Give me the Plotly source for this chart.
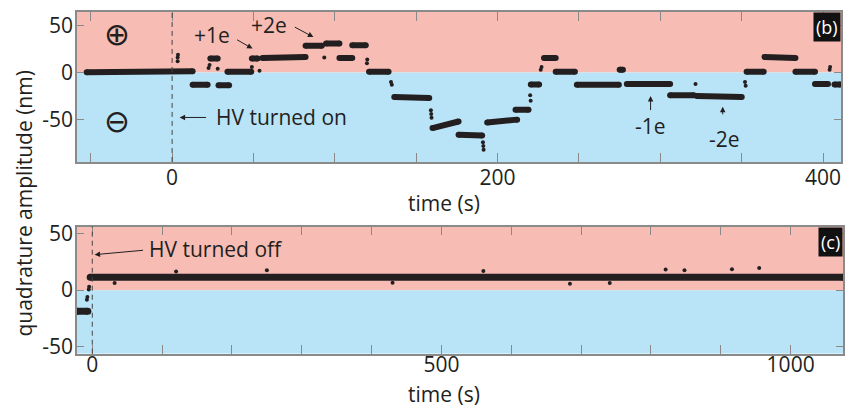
import plotly.graph_objects as go

# ---------------- Panel (b): HV turned on ----------------
# plateaus: start time, end time, level at start, level at end (nm)
b_seg_t0 = [-52.5, 12.6, 23.5, 28.5, 34.0, 49.0, 55.5, 82.0, 94.6, 102.8, 110.7, 121.0, 136.5, 160.0, 176.0, 193.6, 211.0, 220.4, 228.5, 235.7, 248.7, 275.0, 279.4, 306.0, 322.4, 353.0, 364.0, 383.0, 395.0, 407.0]
b_seg_t1 = [12.6, 21.8, 28.0, 35.0, 48.6, 52.5, 82.0, 92.0, 102.8, 110.7, 119.0, 133.0, 158.0, 176.0, 190.5, 212.0, 219.0, 225.5, 235.7, 247.5, 274.5, 277.0, 306.0, 320.5, 350.0, 363.5, 383.0, 395.0, 403.0, 410.5]
b_seg_y0 = [0.5, -13.0, 15.0, -13.5, 1.0, 15.0, 15.5, 28.5, 31.0, 15.5, 29.0, 1.0, -26.0, -59.0, -66.0, -53.0, -39.5, -12.7, 15.5, 1.0, -13.0, 3.0, -12.0, -24.0, -25.0, 1.0, 16.5, 1.0, -12.0, -12.7]
b_seg_y1 = [1.5, -13.0, 15.0, -13.5, 1.0, 15.0, 16.5, 28.5, 31.0, 15.5, 29.0, 1.0, -27.0, -52.0, -67.0, -50.0, -39.5, -12.7, 15.5, 1.0, -13.0, 3.0, -12.0, -24.0, -26.0, 1.0, 15.5, 1.0, -12.0, -12.7]
# isolated transition points
b_pts_t = [3.4, 3.4, 3.6, 22.4, 23.0, 28.0, 49.0, 53.7, 93.5, 119.7, 119.9, 134.5, 135.0, 159.0, 159.2, 159.4, 191.0, 191.2, 191.4, 220.0, 220.3, 226.5, 227.0, 248.5, 275.6, 321.6, 352.0, 352.4, 404.0, 404.3, 408.0]
b_pts_y = [12.0, 16.0, 19.0, 5.0, 8.0, 4.0, 6.0, 2.0, 16.0, 10.0, 14.0, -10.0, -13.0, -40.0, -44.0, -48.0, -74.0, -78.0, -82.0, -24.0, -30.0, 3.0, 6.0, -12.7, 4.0, -12.0, -10.0, -14.0, 3.0, 6.0, -12.7]

# ---------------- Panel (c): HV turned off ----------------
c_seg_t0 = [-22.0, -3.0]
c_seg_t1 = [-6.3, 1075.0]
c_seg_y0 = [-18.6, 11.4]
c_seg_y1 = [-18.6, 11.4]
c_pts_t = [-7.7, -7.0, -5.0, -4.5, 32.0, 684.0, 741.0, 821.0, 848.0, 916.0, 955.0, 250.0, 430.0, 120.0, 560.0]
c_pts_y = [-8.6, -6.0, 0.5, 3.0, 6.3, 5.7, 6.3, 18.3, 17.7, 18.5, 19.7, 17.5, 6.5, 16.5, 17.0]

# axis settings
b_xrange = [-58.5, 411.0]
b_yrange = [-95.0, 64.6]
c_xrange = [-22.0, 1075.0]
c_yrange = [-56.3, 56.3]
b_xticks = [-50, 0, 50, 100, 150, 200, 250, 300, 350, 400]
b_xticktext = ["", "0", "", "", "", "200", "", "", "", "400"]
c_xticks = [0, 100, 200, 300, 400, 500, 600, 700, 800, 900, 1000]
c_xticktext = ["0", "", "", "", "", "500", "", "", "", "", "1000"]
y_ticks = [-50, 0, 50]
y_ticktext = ["-50", "0", "50"]

INK = "#231f20"
PINK = "#f7bdb4"
BLUE = "#b9e4f8"
FRAME = "#8a8a8a"
FONT = "Open Sans"
FS = 21


def seg_xy(t0, t1, y0, y1):
    xs, ys = [], []
    for a, b, c, d in zip(t0, t1, y0, y1):
        xs += [a, b, None]
        ys += [c, d, None]
    return xs, ys


fig = go.Figure()
bx, by = seg_xy(b_seg_t0, b_seg_t1, b_seg_y0, b_seg_y1)
fig.add_trace(go.Scatter(x=bx, y=by, mode="lines+markers", line=dict(color=INK, width=6),
                         marker=dict(color=INK, size=6),
                         xaxis="x", yaxis="y", showlegend=False, hoverinfo="skip"))
fig.add_trace(go.Scatter(x=b_pts_t, y=b_pts_y, mode="markers", marker=dict(color=INK, size=4),
                         xaxis="x", yaxis="y", showlegend=False))
cx, cy = seg_xy(c_seg_t0, c_seg_t1, c_seg_y0, c_seg_y1)
fig.add_trace(go.Scatter(x=cx, y=cy, mode="lines+markers", line=dict(color=INK, width=7),
                         marker=dict(color=INK, size=7),
                         xaxis="x2", yaxis="y2", showlegend=False, hoverinfo="skip"))
fig.add_trace(go.Scatter(x=c_pts_t, y=c_pts_y, mode="markers", marker=dict(color=INK, size=4),
                         xaxis="x2", yaxis="y2", showlegend=False))

W, H = 845, 412
axis_common = dict(showgrid=False, zeroline=False, showline=True, linecolor=FRAME, linewidth=1.5,
                   mirror="ticks", ticks="inside", tickcolor=FRAME, tickwidth=1.2,
                   tickfont=dict(family=FONT, size=FS, color=INK))

fig.update_layout(
    width=W, height=H, autosize=False,
    margin=dict(l=0, r=0, t=0, b=0),
    paper_bgcolor="white", plot_bgcolor="white",
    xaxis=dict(domain=[77 / W, 842 / W], range=b_xrange, tickvals=b_xticks, ticktext=b_xticktext,
               ticklen=9, anchor="y", **axis_common),
    yaxis=dict(domain=[1 - 160 / H, 1 - 5 / H], range=b_yrange, tickvals=y_ticks, ticktext=y_ticktext,
               ticklen=7, anchor="x", **axis_common),
    xaxis2=dict(domain=[77 / W, 844 / W], range=c_xrange, tickvals=c_xticks, ticktext=c_xticktext,
                ticklen=9, anchor="y2", **axis_common),
    yaxis2=dict(domain=[1 - 358 / H, 1 - 226.7 / H], range=c_yrange, tickvals=y_ticks, ticktext=y_ticktext,
                ticklen=7, anchor="x2", **axis_common),
)
for key, val in [("yaxis", -2), ("yaxis2", -2), ("xaxis", -4), ("xaxis2", -9)]:
    try:
        fig.layout[key].ticklabelstandoff = val
    except Exception:
        pass

shapes = [
    dict(type="rect", xref="x domain", yref="y", x0=0, x1=1, y0=0, y1=b_yrange[1],
         fillcolor=PINK, line=dict(width=0), layer="below"),
    dict(type="rect", xref="x domain", yref="y", x0=0, x1=1, y0=b_yrange[0], y1=0,
         fillcolor=BLUE, line=dict(width=0), layer="below"),
    dict(type="rect", xref="x2 domain", yref="y2", x0=0, x1=1, y0=0, y1=c_yrange[1],
         fillcolor=PINK, line=dict(width=0), layer="below"),
    dict(type="rect", xref="x2 domain", yref="y2", x0=0, x1=1, y0=c_yrange[0], y1=0,
         fillcolor=BLUE, line=dict(width=0), layer="below"),
    dict(type="line", xref="x", yref="y domain", x0=0, x1=0, y0=0, y1=1,
         line=dict(color="#444444", width=1, dash="5px,4px")),
    dict(type="line", xref="x2", yref="y2 domain", x0=0, x1=0, y0=0, y1=1,
         line=dict(color="#444444", width=1, dash="5px,4px")),
]
fig.update_layout(shapes=shapes)

tf = dict(family=FONT, size=FS, color=INK)
ann = []
# text labels
ann.append(dict(xref="x", yref="y", x=24.8, y=40, text="+1e", showarrow=False, font=tf))
ann.append(dict(xref="x", yref="y", x=59.8, y=50.5, text="+2e", showarrow=False, font=tf))
ann.append(dict(xref="x", yref="y", x=26.0, y=-47.7, text="HV turned on", showarrow=False,
                xanchor="left", font=tf))
ann.append(dict(xref="x", yref="y", x=294, y=-56.5, text="-1e", showarrow=False, font=tf))
ann.append(dict(xref="x", yref="y", x=339.6, y=-70.5, text="-2e", showarrow=False, font=tf))
ann.append(dict(xref="x", yref="y", x=-34, y=41, text="\u2295", showarrow=False,
                font=dict(family="DejaVu Sans", size=31, color=INK)))
ann.append(dict(xref="x", yref="y", x=-34, y=-51, text="\u2296", showarrow=False,
                font=dict(family="DejaVu Sans", size=31, color=INK)))
ann.append(dict(xref="x2", yref="y2", x=79, y=36.3, text="HV turned off", showarrow=False,
                xanchor="left", font=tf))
# arrows (head at x,y ; tail at ax,ay)
arrows = [
    ("x", "y", 49.4, 25.5, 39.0, 35.8),
    ("x", "y", 86.8, 37.8, 74.5, 49.2),
    ("x", "y", 4.6, -47.7, 21.8, -47.7),
    ("x", "y", 294.0, -25.0, 294.0, -41.5),
    ("x", "y", 338.3, -36.4, 338.3, -46.0),
    ("x2", "y2", 3.3, 31.4, 74.8, 35.4),
]
for xr, yr, hx, hy, tx, ty in arrows:
    ann.append(dict(xref=xr, yref=yr, axref=xr, ayref=yr, x=hx, y=hy, ax=tx, ay=ty, text="",
                    showarrow=True, arrowhead=2, arrowsize=1.1, arrowwidth=1, arrowcolor=INK,
                    standoff=0, startstandoff=0))
# panel tags
for xr, yr, t in [("x domain", "y domain", "(b)"), ("x2 domain", "y2 domain", "(c)")]:
    ann.append(dict(xref=xr, yref=yr, x=1, y=1, xanchor="right", yanchor="top", text=t,
                    showarrow=False, bgcolor="#111111", borderpad=2,
                    font=dict(family=FONT, size=18, color="white")))
# axis titles
ann.append(dict(xref="paper", yref="paper", x=445 / W, y=1 - 202 / H, text="time (s)",
                showarrow=False, font=tf, xanchor="center", yanchor="middle"))
ann.append(dict(xref="paper", yref="paper", x=445 / W, y=1 - 400 / H, text="time (s)",
                showarrow=False, font=tf, xanchor="center", yanchor="middle"))
ann.append(dict(xref="paper", yref="paper", x=24 / W, y=1 - 203 / H, text="quadrature amplitude (nm)",
                showarrow=False, font=tf, textangle=-90, xanchor="center", yanchor="middle"))
fig.update_layout(annotations=ann)

fig.write_html("out.html")
